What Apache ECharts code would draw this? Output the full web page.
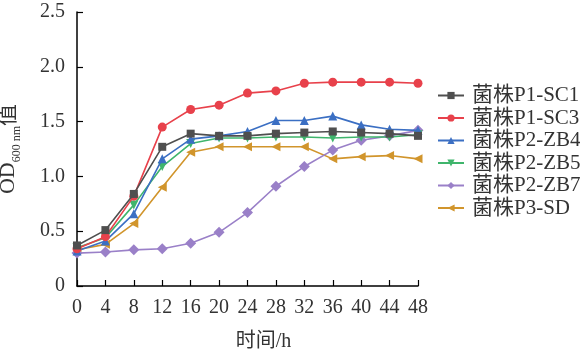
<!DOCTYPE html>
<html><head><meta charset="utf-8">
<script src="https://cdn.jsdelivr.net/npm/echarts@6/dist/echarts.min.js"></script>
<style>html,body{margin:0;padding:0;background:#fff}#c{width:580px;height:355px}</style>
</head><body><div id="c"></div>
<script>
const hours = [0,4,8,12,16,20,24,28,32,36,40,44,48];
const seriesNames = ['菌株P1-SC1','菌株P1-SC3','菌株P2-ZB4','菌株P2-ZB5','菌株P2-ZB7','菌株P3-SD'];
const sc1 = [0.37,0.51,0.84,1.27,1.39,1.37,1.37,1.39,1.40,1.41,1.40,1.39,1.37];
const sc3 = [0.34,0.45,0.82,1.45,1.61,1.65,1.76,1.78,1.85,1.86,1.86,1.86,1.85];
const zb4 = [0.32,0.41,0.66,1.16,1.34,1.37,1.41,1.51,1.51,1.55,1.47,1.43,1.42];
const zb5 = [0.35,0.44,0.74,1.09,1.30,1.35,1.35,1.36,1.36,1.35,1.36,1.36,1.38];
const zb7 = [0.30,0.31,0.33,0.34,0.39,0.49,0.67,0.91,1.09,1.24,1.33,1.37,1.42];
const sd  = [0.33,0.38,0.57,0.90,1.22,1.27,1.27,1.27,1.27,1.16,1.18,1.19,1.16];
const yTicks = [0,0.5,1.0,1.5,2.0,2.5];

const colors = ['#4f4f4f','#e8414b','#3b6fc3','#3fb56c','#9a80c8','#d1952c'];
const symbols = ['rect','circle','triangle','triangle','diamond','triangle'];
const rotates = [0,0,0,180,0,90];
const values = [sc1,sc3,zb4,zb5,zb7,sd];
const FONT = '"Liberation Serif","Times New Roman","Noto Sans CJK SC",serif';

const chart = echarts.init(document.getElementById('c'));
chart.setOption({
  animation:false,
  grid:{left:77,right:162,top:12,bottom:69,containLabel:false,outerBoundsMode:'none'},
  legend:{
    orient:'vertical', left:432, top:80, itemGap:1.5, itemWidth:26, itemHeight:9,
    textStyle:{fontFamily:FONT,fontSize:21,color:'#333',padding:[0,0,0,3]},
    data:seriesNames.map((n,i)=>({name:n}))
  },
  xAxis:{
    type:'value', min:0, max:48, interval:4,
    name:'时间/h', nameLocation:'middle', nameGap:46,
    nameTextStyle:{fontFamily:FONT,fontSize:20,color:'#333',padding:[0,0,0,32]},
    axisLine:{lineStyle:{color:'#000',width:1.5}},
    axisTick:{inside:true,length:6,lineStyle:{color:'#000',width:1.2}},
    axisLabel:{fontFamily:FONT,fontSize:20,color:'#333',margin:12},
    splitLine:{show:false}
  },
  yAxis:{
    type:'value', min:yTicks[0], max:yTicks[yTicks.length-1], interval:0.5,
    name:'{a|OD}{b|600 nm}{a|值}', nameLocation:'middle', nameGap:58,
    nameTextStyle:{fontFamily:FONT,fontSize:22,color:'#333',
      rich:{a:{fontFamily:FONT,fontSize:22,color:'#333',verticalAlign:'bottom'},
            b:{fontFamily:FONT,fontSize:12,color:'#333',verticalAlign:'bottom',padding:[0,0,-4,0]}}},
    axisLine:{show:true,lineStyle:{color:'#000',width:1.5}},
    axisTick:{show:true,inside:true,length:6,lineStyle:{color:'#000',width:1.2}},
    axisLabel:{fontFamily:FONT,fontSize:20,color:'#333',margin:12,
      formatter:v=>v===0?'0':v.toFixed(1)},
    splitLine:{show:false}
  },
  series:seriesNames.map((n,i)=>({
    name:n, type:'line', data:hours.map((h,j)=>[h,values[i][j]]),
    symbol:symbols[i], symbolRotate:rotates[i], symbolSize:i===4?11:(i===0?8:9),
    itemStyle:{color:colors[i]}, lineStyle:{color:colors[i],width:1.6},
    z:10-i
  }))
});
</script></body></html>
